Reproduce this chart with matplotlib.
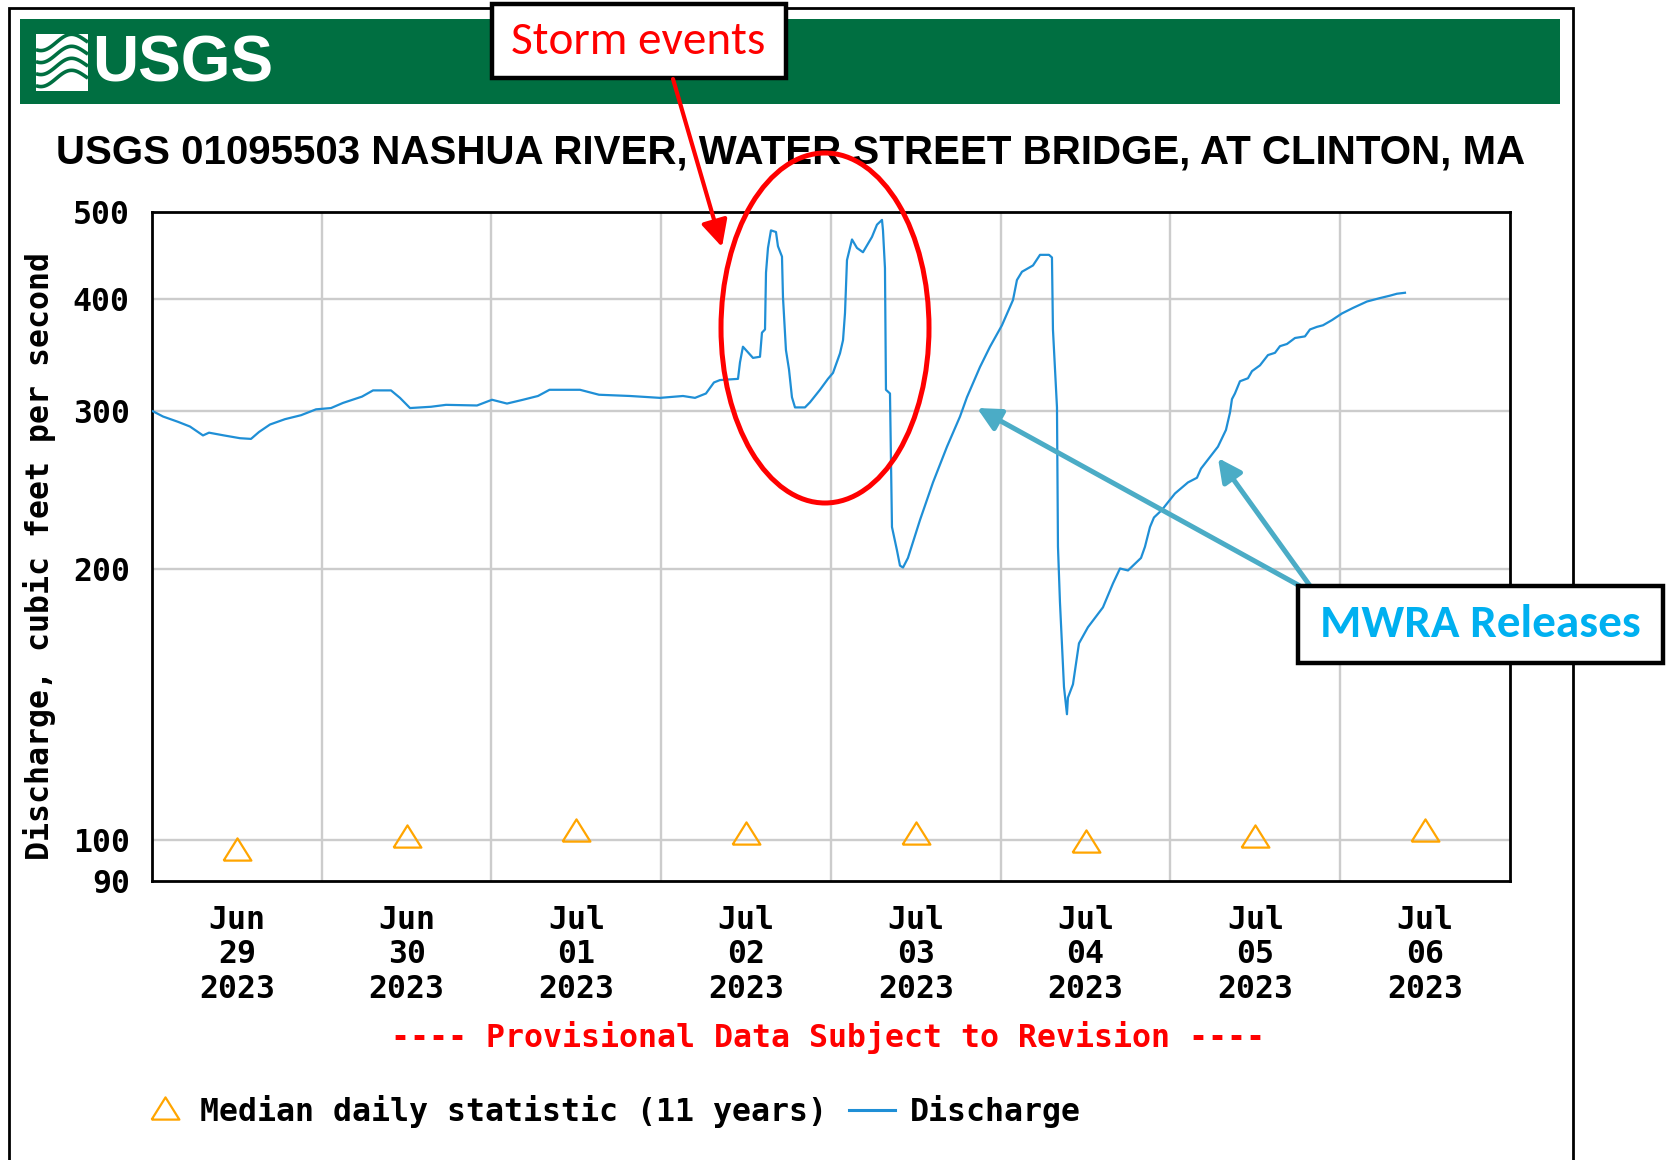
import numpy as np
import matplotlib
matplotlib.use('Agg')
import matplotlib.pyplot as plt
from matplotlib import font_manager
from matplotlib.patches import Rectangle, Ellipse, FancyArrowPatch, ArrowStyle
from matplotlib.lines import Line2D
from matplotlib.ticker import NullLocator

# ---------------- data ----------------
# hours since 2023-06-29 00:00
hours = [0.14, 1.56, 3.68, 5.37, 7.21, 8.06, 10.18, 12.44, 14.00, 15.13, 16.68, 18.80,
         21.07, 23.19, 25.31, 27.00, 29.69, 31.25, 33.79, 35.06, 36.48, 39.45, 41.57,
         45.95, 48.07, 50.19, 52.45, 54.57, 56.20, 60.51, 63.20, 67.58, 71.82, 75.07,
         76.77, 78.32, 79.45, 80.30, 82.85, 83.13, 83.55, 84.97, 85.96, 86.24, 86.67,
         86.81, 87.09, 87.51, 88.22, 88.50, 89.07, 89.21, 89.63, 90.06, 90.48, 90.91,
         92.32, 93.03, 94.44, 95.57, 96.28, 97.27, 97.70, 97.98, 98.26, 98.97, 99.67,
         100.52, 101.79, 102.50, 103.21, 103.35, 103.63, 103.77, 104.34, 104.48, 104.62,
         105.33, 105.75, 106.18, 106.88, 108.58, 110.42, 112.40, 114.24, 115.22, 117.06,
         118.48, 120.17, 121.73, 122.29, 123.00, 124.56, 125.55, 126.82, 127.24, 127.38,
         127.95, 128.09, 128.37, 128.94, 129.36, 129.50, 130.21, 130.78, 131.06, 132.33,
         134.45, 135.87, 136.86, 137.99, 139.83, 140.39, 141.10, 141.66, 142.79, 144.63,
         146.47, 147.74, 148.31, 149.44, 150.71, 151.84, 152.41, 152.69, 153.11, 153.82,
         154.95, 155.52, 156.65, 157.78, 158.77, 159.48, 160.47, 161.60, 163.01, 163.72,
         164.71, 165.56, 166.83, 168.24, 169.80, 171.78, 173.62, 175.03, 176.02, 177.15]
discharge = [300, 296, 292, 288.5, 282, 284, 282, 280, 279.5, 284.5, 290, 294,
             297, 301.5, 302.5, 306.5, 311.5, 316.5, 316.5, 310.5, 302.5, 303.5, 305,
             304.5, 309, 306, 309, 312, 317, 317, 313, 312, 310.5, 312,
             310.5, 314, 323, 325, 326, 340, 354, 344, 345, 367, 370,
             428, 456, 477, 475, 458, 446, 402, 351, 334, 311, 303,
             303, 307, 317, 326, 331, 348, 360, 386, 442, 466, 456,
             451, 469, 484, 490, 477, 433, 317, 314, 267, 223,
             210, 202, 201, 206, 227, 250, 274, 296, 311, 336,
             354, 374, 399, 420, 429, 436, 448, 448, 445, 370,
             303, 212, 184, 148, 138, 144, 149, 160, 165.5, 172.5,
             181.5, 193, 200.5, 199.5, 206, 212, 223, 228.5, 233, 243,
             250, 253, 259, 266, 274, 286, 299, 309.5, 314, 324,
             326.5, 332.5, 337.5, 346.5, 348.5, 354.5, 356.5, 362, 363.5, 370,
             372.5, 374, 379, 385.5, 391, 397.5, 401, 403.5, 405.5, 406.5]

median_hours = [12, 36, 60, 84, 108, 132, 156, 180]
median_vals = [97.6, 101.1, 102.5, 101.8, 101.8, 99.7, 101.1, 102.5]

day_labels = ['Jun\n29\n2023', 'Jun\n30\n2023', 'Jul\n01\n2023', 'Jul\n02\n2023',
              'Jul\n03\n2023', 'Jul\n04\n2023', 'Jul\n05\n2023', 'Jul\n06\n2023']
day_bounds = [0, 24, 48, 72, 96, 120, 144, 168, 192]
yticks = [90, 100, 200, 300, 400, 500]
ygrid = [100, 200, 300, 400]

title = 'USGS 01095503 NASHUA RIVER, WATER STREET BRIDGE, AT CLINTON, MA'

# ---------------- fonts ----------------
names = {f.name for f in font_manager.fontManager.ttflist}
def pick(*cands):
    for c in cands:
        if c in names:
            return c
    return 'DejaVu Sans'
NARROW = pick('Liberation Sans Narrow', 'Liberation Sans')
MONO = pick('DejaVu Sans Mono', 'Liberation Mono')
CAL = pick('Carlito', 'Lato', 'Open Sans')
FS = 22.7

# ---------------- figure ----------------
W, H = 1670, 1160
DPI = 100
fig = plt.figure(figsize=(W / DPI, H / DPI), dpi=DPI)
fig.patch.set_facecolor('white')

def fx(x):
    return x / W

def fy(y):
    return 1 - y / H

TF = fig.transFigure

# outer border
fig.add_artist(Rectangle((fx(9), fy(1220)), (1573 - 9) / W, (1220 - 8) / H,
                         transform=TF, fill=False, ec='black', lw=2.0, zorder=0))
# green banner
fig.add_artist(Rectangle((fx(20), fy(104)), (1560 - 20) / W, (104 - 19) / H,
                         transform=TF, fc='#006F41', ec='none', zorder=0.5))
# logo icon
fig.add_artist(Rectangle((fx(36), fy(91)), (88 - 36) / W, (91 - 34) / H,
                         transform=TF, fc='white', ec='none', zorder=0.6))
tt = np.linspace(0, 1, 40)
for k, off in enumerate([44, 56, 68, 80]):
    xs = 36 + 52 * tt
    ys = off + 7 * np.sin(2 * np.pi * (tt * 0.9 + 0.15)) - 4 * tt
    fig.add_artist(Line2D(fx(xs), fy(ys), transform=TF, color='#006F41', lw=2.6,
                          zorder=0.7, solid_capstyle='butt'))
fig.text(fx(92), fy(64), 'USGS', color='white', fontsize=46, family=NARROW,
         weight='bold', ha='left', va='center', zorder=0.8)

# title
fig.text(fx(791), fy(152), title, fontsize=29, family=NARROW, weight='bold',
         ha='center', va='center', color='black')

# ---------------- axes ----------------
ax = fig.add_axes([fx(152), fy(881), (1510 - 152) / W, (881 - 212) / H])
ax.set_yscale('log')
ax.set_ylim(90, 500)
ax.set_xlim(day_bounds[0], day_bounds[-1])

for v in ygrid:
    ax.axhline(v, color='#cccccc', lw=1.7, zorder=1)
for d in day_bounds[1:-1]:
    ax.axvline(d, color='#cccccc', lw=1.7, zorder=1)

ax.plot(hours, discharge, color='#1f8fd6', lw=1.6, zorder=3)

tri = [(-1.25, -1), (1.25, -1), (0, 1), (-1.25, -1)]
ax.plot(median_hours, median_vals, linestyle='none', marker=tri, ms=20,
        mfc='none', mec='#FFA500', mew=1.6, zorder=4)

ax.set_yticks(yticks)
ax.set_yticklabels([str(v) for v in yticks])
ax.yaxis.set_minor_locator(NullLocator())
ax.set_xticks(median_hours)
ax.set_xticklabels(day_labels, linespacing=1.16)
ax.xaxis.set_minor_locator(NullLocator())
ax.tick_params(axis='both', length=0, labelsize=FS)
ax.tick_params(axis='y', pad=16)
ax.tick_params(axis='x', pad=17)
for lab in ax.get_xticklabels() + ax.get_yticklabels():
    lab.set_family(MONO)
    lab.set_weight('bold')
for s in ax.spines.values():
    s.set_linewidth(2.0)
    s.set_color('black')

fig.text(fx(40), fy(556), 'Discharge, cubic feet per second', rotation=90,
         family=MONO, weight='bold', fontsize=FS, ha='center', va='center')

fig.text(fx(828), fy(1038), '---- Provisional Data Subject to Revision ----',
         family=MONO, weight='bold', fontsize=FS, color='#FF0000',
         ha='center', va='center')

# legend
fig.add_artist(Line2D([fx(165)], [fy(1108)], transform=TF, linestyle='none', marker=tri,
                      ms=20, mfc='none', mec='#FFA500', mew=1.6))
fig.text(fx(200), fy(1112), 'Median daily statistic (11 years)', family=MONO,
         weight='bold', fontsize=FS, ha='left', va='center')
fig.add_artist(Line2D([fx(849), fx(895)], [fy(1110), fy(1110)], transform=TF,
                      color='#1f8fd6', lw=2.2))
fig.text(fx(910), fy(1112), 'Discharge', family=MONO, weight='bold', fontsize=FS,
         ha='left', va='center')

# ---------------- annotations ----------------
fig.add_artist(Rectangle((fx(492), fy(78)), (786 - 492) / W, (78 - 4) / H,
                         transform=TF, fc='white', ec='black', lw=3.2, zorder=5))
fig.text(fx(638), fy(41), 'Storm events', color='#FF0000', fontsize=34, family=CAL,
         ha='center', va='center', zorder=6)
fig.add_artist(FancyArrowPatch((fx(673), fy(79)), (fx(722), fy(247)), transform=TF,
                               arrowstyle=ArrowStyle('-|>', head_length=0.8, head_width=0.4),
                               mutation_scale=20, color='#FF0000', lw=3.0,
                               shrinkA=0, shrinkB=0, zorder=6))
fig.add_artist(Ellipse((fx(825), fy(328)), 208 / W, 350 / H, transform=TF,
                       fill=False, ec='#FF0000', lw=3.6, zorder=6))

teal = '#4BACC6'
fig.add_artist(FancyArrowPatch((fx(1300), fy(586)), (fx(977), fy(408)), transform=TF,
                               arrowstyle=ArrowStyle('-|>', head_length=0.7, head_width=0.35),
                               mutation_scale=20, color=teal, lw=3.6,
                               shrinkA=0, shrinkB=0, zorder=6))
fig.add_artist(FancyArrowPatch((fx(1313), fy(590)), (fx(1218), fy(458)), transform=TF,
                               arrowstyle=ArrowStyle('-|>', head_length=0.7, head_width=0.35),
                               mutation_scale=20, color=teal, lw=3.6,
                               shrinkA=0, shrinkB=0, zorder=6))
fig.add_artist(Rectangle((fx(1298), fy(663)), (1663 - 1298) / W, (663 - 586) / H,
                         transform=TF, fc='white', ec='black', lw=3.2, zorder=7))
fig.text(fx(1480), fy(624), 'MWRA Releases', color='#00B0F0', fontsize=34, family=CAL,
         weight='bold', ha='center', va='center', zorder=8)

fig.savefig('out.png', dpi=DPI)
